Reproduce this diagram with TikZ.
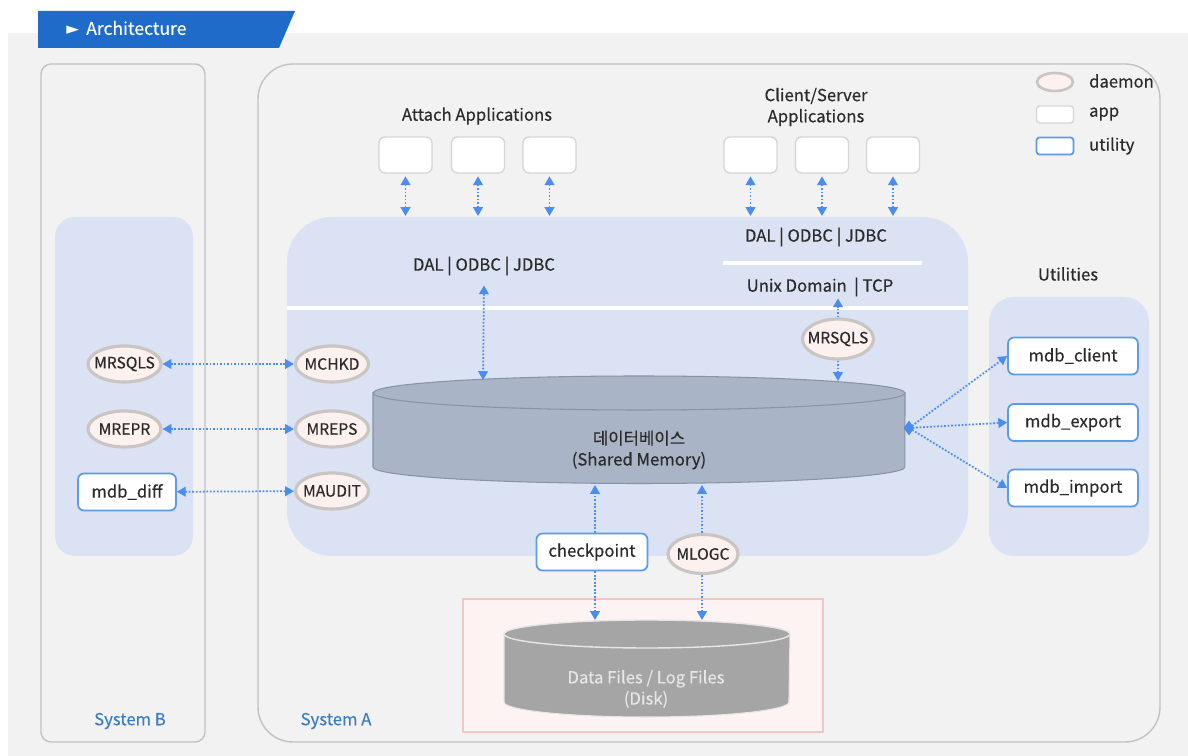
\documentclass[tikz,border=0pt]{standalone}
\usepackage{fontspec}
\setmainfont{Noto Sans CJK KR}[FakeBold=0.35]
\newfontfamily\symfont{DejaVu Sans}
\usetikzlibrary{arrows.meta,shapes.geometric}

\definecolor{bggray}{HTML}{F2F2F2}
\definecolor{banner}{HTML}{1F6BC9}
\definecolor{panel}{HTML}{DAE2F3}
\definecolor{frame}{HTML}{C2C2C2}
\definecolor{arrowblue}{HTML}{4A8CF0}
\definecolor{daemonfill}{HTML}{FCF1EE}
\definecolor{daemonedge}{HTML}{C9C5C2}
\definecolor{utiledge}{HTML}{5B9BE8}
\definecolor{appedge}{HTML}{D6D6D6}
\definecolor{dbfill}{HTML}{A9B4C6}
\definecolor{dbedge}{HTML}{8793A6}
\definecolor{diskfill}{HTML}{A5A5A5}
\definecolor{diskline}{HTML}{E6E6E6}
\definecolor{diskarea}{HTML}{FDF3F3}
\definecolor{diskedge}{HTML}{F3C6C6}
\definecolor{textdark}{HTML}{2B2B2B}
\definecolor{syslabel}{HTML}{3B7CC4}

% daemon labels take no width, so the ellipse keeps its set size
\newcommand{\dlabel}[1]{\makebox[0pt]{#1}}

\tikzset{
  lbl/.style={text=textdark, font=\fontsize{9.5}{12}\selectfont, inner sep=1pt, align=center},
  daemon/.style={ellipse, draw=daemonedge, fill=daemonfill, line width=1.8pt,
    minimum width=1.46cm, minimum height=0.72cm, inner sep=0pt, lbl,
    font=\fontsize{8.9}{11}\selectfont},
  appbox/.style={draw=appedge, fill=white, line width=0.8pt, rounded corners=0.12cm,
    minimum width=1.06cm, minimum height=0.72cm, inner sep=0pt},
  utilbox/.style={draw=utiledge, fill=white, line width=1pt, rounded corners=0.12cm,
    minimum height=0.74cm, inner sep=0pt, lbl},
  link/.style={arrowblue, densely dotted, line width=1pt,
    {Triangle[length=5pt,width=5.5pt]}-{Triangle[length=5pt,width=5.5pt]}},
  onelink/.style={arrowblue, densely dotted, line width=1pt,
    -{Triangle[length=5pt,width=5.5pt]}},
  syst/.style={text=syslabel, font=\fontsize{9.5}{12}\selectfont, inner sep=0pt}
}

\begin{document}
\begin{tikzpicture}[x=0.02cm, y=-0.02cm]
\useasboundingbox (0,0) rectangle (1188,756);
\fill[white] (0,0) rectangle (1188,756);
\fill[bggray] (8,33) rectangle (1188,756);

% title banner
\fill[banner] (38,11) -- (295,11) -- (279,48) -- (38,48) -- cycle;
\node[text=white, anchor=west, inner sep=0pt, font=\fontsize{10}{12}\selectfont] (title) at (66,28)
  {{\symfont\fontsize{9.5}{10}\selectfont ►}\hspace{4pt}Architecture};

% system frames
\draw[frame, line width=0.8pt, fill=bggray, rounded corners=0.2cm] (41,64) rectangle (205,742);
\draw[frame, line width=0.8pt, rounded corners=0.7cm] (258,64) rectangle (1160,742);
\node[syst] (sysB) at (130,721) {System B};
\node[syst] (sysA) at (336,721) {System A};

% blue panels
\fill[panel, rounded corners=0.4cm] (55,217) rectangle (193,556);
\fill[panel, rounded corners=0.9cm] (287,217) rectangle (968,556);
\fill[panel, rounded corners=0.5cm] (989,297) rectangle (1149,556);
\draw[white, line width=1.8pt] (287,308) -- (968,308);
\draw[white, line width=1.8pt] (723,263) -- (922,263);

% legend
\node[daemon, minimum width=0.72cm, minimum height=0.36cm, line width=1.5pt] (lgd) at (1055,82) {};
\node[appbox, minimum width=0.74cm, minimum height=0.34cm, rounded corners=0.06cm] (lga) at (1055,114.5) {};
\node[utilbox, minimum width=0.74cm, minimum height=0.34cm, rounded corners=0.06cm] (lgu) at (1055,146) {};
\node[lbl, anchor=west] (lgdt) at (1087,81) {daemon};
\node[lbl, anchor=west] (lgat) at (1087,114) {app};
\node[lbl, anchor=west] (lgut) at (1087,146) {utility};

% application groups
\node[lbl] (attach) at (477,116) {Attach Applications};
\node[lbl] (cs) at (816,107) {Client/Server\\Applications};
\node[appbox] (at1) at (405.5,155) {};
\node[appbox] (at2) at (478,155) {};
\node[appbox] (at3) at (549.5,155) {};
\node[appbox] (cl1) at (750.5,155) {};
\node[appbox] (cl2) at (822,155) {};
\node[appbox] (cl3) at (893,155) {};
\coordinate (p1) at (405.5,216);
\coordinate (p2) at (478,216);
\coordinate (p3) at (549.5,216);
\coordinate (p4) at (750.5,216);
\coordinate (p5) at (822,216);
\coordinate (p6) at (893,216);
\foreach \a/\b in {at1/p1,at2/p2,at3/p3,cl1/p4,cl2/p5,cl3/p6}
  \draw[link, shorten <=1.5pt] (\a) -- (\b);

% interface labels
\node[lbl] (dal1) at (484,266) {DAL | ODBC | JDBC};
\node[lbl] (dal2) at (816,237) {DAL | ODBC | JDBC};
\node[lbl] (unix) at (820,287) {Unix Domain \ | TCP};

% shared memory database
\fill[dbfill, draw=dbedge, line width=0.6pt] (373,393) -- (373,467)
  arc[start angle=180, end angle=360, x radius=5.32cm, y radius=0.33cm] -- (905,393) -- cycle;
\draw[dbedge, fill=dbfill, line width=0.6pt] (639,393) ellipse[x radius=5.32cm, y radius=0.34cm];
\node[lbl] (db) at (639,450) {데이터베이스\\(Shared Memory)};
\coordinate (dbin1) at (483,380);
\coordinate (dbin2) at (838,381);
\coordinate (dbout1) at (595,485);
\coordinate (dbout2) at (702,485);

\draw[link] (dal1.south) ++(0,8) -- (dbin1);

% network daemon
\node[daemon, minimum width=1.42cm, minimum height=0.8cm] (mrsqlsA) at (838,339) {\dlabel{MRSQLS}};
\draw[onelink] (mrsqlsA.north) -- (mrsqlsA.north |- unix.south);
\draw[onelink] (mrsqlsA.south) -- (dbin2);

% replication / check daemons
\node[daemon] (mrsqlsB) at (124.5,364) {\dlabel{MRSQLS}};
\node[daemon] (mrepr) at (124.5,429) {\dlabel{MREPR}};
\node[utilbox, minimum width=1.96cm] (mdbdiff) at (127,492) {mdb\_diff};
\node[daemon] (mchkd) at (332,364) {\dlabel{MCHKD}};
\node[daemon] (mreps) at (332,429) {\dlabel{MREPS}};
\node[daemon] (maudit) at (332,491) {\dlabel{MAUDIT}};
\draw[link] (mrsqlsB) -- (mchkd);
\draw[link] (mrepr) -- (mreps);
\draw[link] (mdbdiff) -- (maudit);

% utilities
\node[lbl] (utl) at (1068,274) {Utilities};
\node[utilbox, minimum width=2.6cm] (client) at (1073,356) {mdb\_client};
\node[utilbox, minimum width=2.6cm] (export) at (1073,422.5) {mdb\_export};
\node[utilbox, minimum width=2.6cm] (import) at (1073,488) {mdb\_import};
\node[diamond, fill=arrowblue, minimum width=0.22cm, minimum height=0.3cm, inner sep=0pt] (dbR) at (909,428) {};
\draw[onelink] (dbR.center) -- (client.west);
\draw[onelink] (dbR.center) -- (export.west);
\draw[onelink] (dbR.center) -- (import.west);

% disk area
\draw[diskedge, fill=diskarea, line width=0.7pt] (463,599) rectangle (823,732);
\fill[diskfill, draw=diskline, line width=0.6pt] (504,634) -- (504,702)
  arc[start angle=180, end angle=360, x radius=2.85cm, y radius=0.3cm] -- (790,634) -- cycle;
\draw[diskline, fill=diskfill, line width=0.8pt] (647,634) ellipse[x radius=2.86cm, y radius=0.28cm];
\node[lbl, text=diskline] (disk) at (646,689) {Data Files / Log Files\\(Disk)};
\coordinate (dk1) at (595,620);
\coordinate (dk2) at (702,620);

% checkpoint and log flush
\node[utilbox, minimum width=2.22cm] (ckpt) at (592,552) {checkpoint};
\node[daemon, minimum width=1.4cm, minimum height=0.78cm] (mlogc) at (703,554) {\dlabel{MLOGC}};
\draw[onelink] (ckpt.north -| dbout1) -- (dbout1);
\draw[onelink] (ckpt.south -| dk1) -- (dk1);
\draw[onelink] (mlogc.north -| dbout2) -- (dbout2);
\draw[onelink] (mlogc.south -| dk2) -- (dk2);
\end{tikzpicture}
\end{document}
